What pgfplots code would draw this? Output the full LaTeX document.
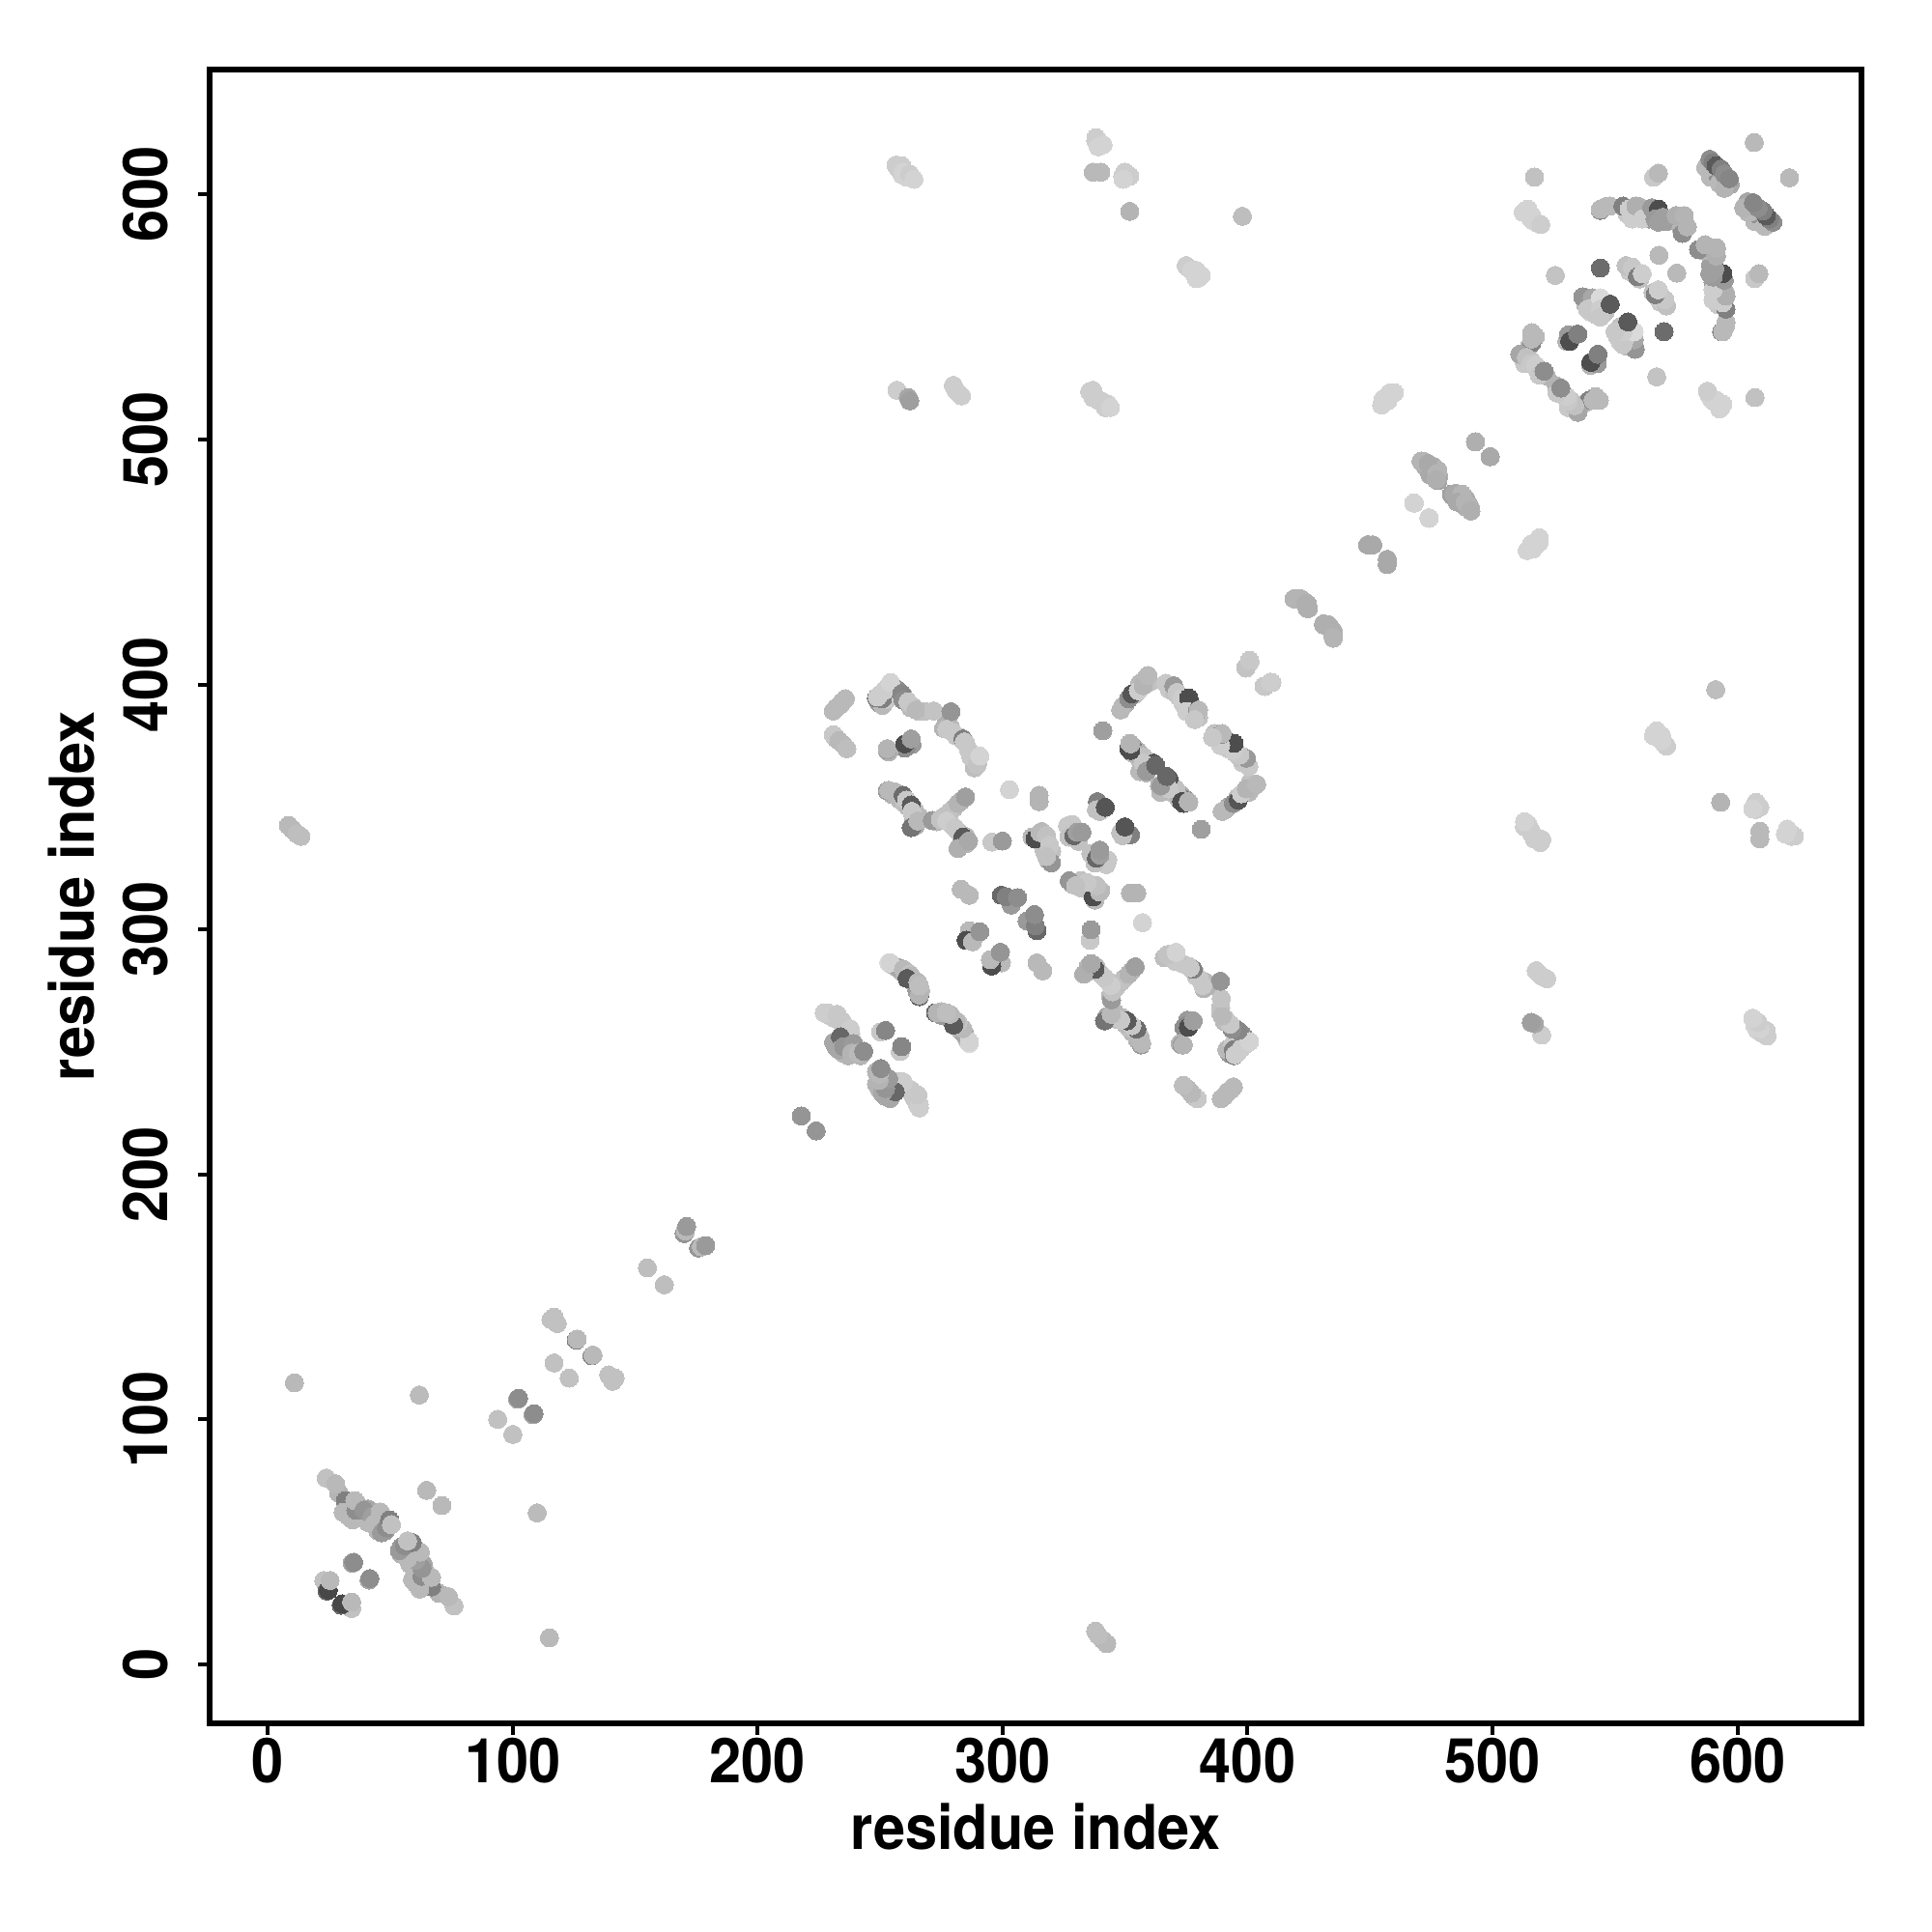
\documentclass[border=0pt]{standalone}
\usepackage{fontspec}
\setmainfont{TeX Gyre Heros}[FakeStretch=0.93]
\usepackage{pgfplots}
\usepackage{pgfplotstable}
\pgfplotsset{compat=1.18}
\pgfplotstableread{
x y g
10.9 115.0 .72
61.9 110.0 .73
8.5 342.5 .72
10 341 .72
12 339 .74
13.6 338 .74
23.9 76.1 .75
27.7 73.8 .72
31.7 66.9 .50
30.8 62.1 .72
34.7 59.1 .72
36 63 .55
35.6 66.9 .72
39.3 63 .58
42.6 60.4 .62
43.2 57.1 .72
46.5 53.8 .60
45.9 62.3 .72
48.5 55.8 .55
49.8 59 .50
50.5 57.1 .75
34.5 41.4 .65
35.1 41.7 .55
22.9 34.3 .75
24.2 30.0 .40
24.8 30.4 .28
25.5 34.3 .72
64.9 71.1 .72
93.9 100.1 .75
102.0 108.3 .65
102.4 108.7 .55
116.9 123.1 .75
126.0 132.4 .50
126.3 132.8 .72
115.6 140.8 .75
116.9 141.8 .75
118.2 139.2 .75
155 161.9 .74
170 175.9 .58
170.5 177 .72
171 178.8 .60
217.8 223.9 .58
227.2 266 .80
228.6 266 .80
232.5 265.4 .78
234.5 262.7 .78
237.8 259.5 .80
233.8 256.2 .40
233.2 250.9 .65
235.1 252.2 .58
239.1 253.5 .60
238.4 249.6 .70
241 249.6 .72
243.3 250.3 .55
250.2 258.2 .78
252.2 258.8 .52
253.5 286.4 .85
257.5 284.4 .65
254.2 286.4 .82
259.5 283.8 .72
262.1 281.8 .76
262.7 281 .72
261 280 .35
265.4 278.5 .72
266 272.6 .40
266 273.3 .70
266 277 .74
286.4 299.5 .72
285.1 295.6 .30
287.7 295 .72
290.7 299.1 .58
283.1 316.4 .72
286.4 314 .72
299.5 314 .40
303.5 310 .60
301.5 313.4 .50
306.1 313 .55
235.8 394.2 .72
233.8 391.8 .72
230.9 389.2 .72
230.9 379.5 .78
233.2 377.1 .72
236.4 373.8 .74
248.5 394.5 .50
250.9 394.2 .50
248.9 394.9 .80
251.6 397.5 .80
254.2 400.8 .82
258.8 396.2 .52
259.4 393.6 .55
261.4 392.9 .78
264.7 389.6 .72
271.9 389.2 .76
278.9 388.9 .58
275.9 382.1 .70
277.2 381.7 .78
279.8 380.4 .78
283.8 377.8 .50
284.4 376.6 .78
287 370.5 .78
289.7 367.3 .76
290.7 370.8 .82
252.9 373.2 .62
252.9 373.8 .70
260.7 374.5 .55
260.1 375.8 .30
262.7 377.8 .62
252.9 356.6 .60
253.5 356.8 .72
256.2 356.1 .72
259.4 354.8 .42
260.8 352.8 .78
262.7 350.8 .35
263 348.2 .78
262.7 341.6 .45
265.4 344.3 .72
271.3 344.5 .60
274.6 344.9 .76
278.5 348.2 .75
281.8 351.5 .70
284.8 354.1 .62
277.2 344.3 .80
280.5 341.6 .78
283.8 337.7 .35
281.8 333.1 .68
286.1 336.1 .66
295.6 335.7 .78
299.9 336.1 .60
302.8 357.1 .82
314.9 354.8 .70
314.9 352.2 .70
319.9 327.2 .58
312 337.7 .72
313.3 337 .30
315.3 339.6 .72
317.9 338.4 .75
319.2 334.4 .78
317.9 329.8 .75
326.5 342.3 .78
328.5 342.9 .78
327.1 337.7 .75
329.1 338.3 .40
330.4 339.7 .62
332.4 339.7 .60
338.7 352.2 .50
338.3 348.9 .75
339.6 348.2 .75
341.9 349.9 .33
340.9 381.1 .62
348.2 389.6 .72
351.5 394.2 .55
352.8 396.2 .33
355.4 397.5 .80
357.4 399.5 .70
359.3 403.7 .72
366.6 400.5 .78
369.9 399.5 .60
371.2 396.8 .78
373.1 394.2 .80
376 394.5 .30
377.1 391.6 .30
375.1 389 .80
379.5 389 .55
380 389.6 .72
378.4 385.7 .78
351.5 373.8 .30
351.9 376 .72
353.4 373.8 .50
355.4 371.2 .70
357.4 370.6 .75
358 366.6 .65
361.6 367.9 .33
357.4 367.9 .78
358.7 364.6 .60
362.5 367 .40
352.2 373.1 .30
352.2 375.8 .70
399.2 407 .76
400.8 409.9 .78
406.7 399.4 .78
409.3 401 .80
258.8 611.7 .80
257.5 610.4 .80
259.5 609.1 .82
262.1 608.4 .80
263.8 606.2 .82
338.1 623.2 .80
341 620.3 .82
339 619.5 .82
337 609.1 .72
340.1 609.1 .72
349.9 609.1 .80
351.9 607.5 .80
349.2 606.2 .82
351.9 593.1 .70
397.9 591.1 .74
374.9 571 .80
377.1 569 .82
379.1 569 .82
381.1 567 .82
379.1 565.7 .82
256.9 520.1 .80
261.5 517.1 .65
262.1 515.8 .62
279.9 522.1 .80
283.2 517.8 .80
336.8 520.1 .80
337.7 517.7 .80
340.3 515.8 .80
341.9 514.5 .80
344 513.1 .82
459.9 519.1 .82
455.3 516.5 .82
454.7 514.1 .82
457.3 515.8 .82
493 499.1 .68
499 493 .66
470.8 491.2 .70
473.7 490.2 .66
475 487.5 .66
477.3 486.2 .70
477 483.6 .68
483.2 477.7 .62
484.2 477.7 .66
487.5 477.7 .70
485.6 474.4 .66
488.8 474.4 .70
490.2 473.1 .70
491.1 471.1 .68
467.8 474.1 .82
474 468.1 .82
449 457 .66
451.1 457 .66
457 451.1 .66
457 449.2 .66
418.9 435 .70
421.8 435 .70
423.8 433 .68
424.4 431 .68
431 424.8 .68
433 424.4 .68
434.7 421.8 .68
434.9 419.2 .70
517.1 607.1 .75
512.5 592.7 .82
514.4 594 .82
515.7 590 .82
519.7 587.7 .80
544 593.5 .55
544 594 .72
548 595.3 .72
553.2 595.3 .50
555.8 594 .80
558.5 595.3 .68
561.1 590 .80
565 594.6 .60
567.7 594 .30
566.3 590 .60
567.7 588.7 .62
569.6 590.7 .62
577.5 584.1 .55
574.9 591.4 .68
578.2 591.4 .70
579.5 586.8 .70
565.7 607 .78
567.7 608.7 .72
525.6 567 .76
544 570 .42
554.5 571 .75
557.1 570.3 .78
559.1 566.4 .50
561.1 567.7 .80
567.9 575.2 .72
536.8 558.2 .58
540.7 557.8 .65
538.7 553.2 .78
542 554.5 .78
544 557.8 .85
544 553.2 .80
544 550 .78
548 555.2 .35
516 539.4 .50
516 541 .72
516 543.6 .72
530.3 540 .70
530.9 542.7 .60
531.5 540.1 .30
534.8 543 .50
511.1 534.8 .65
513.8 533.5 .75
515.7 530.9 .78
517.7 530.2 .80
519 526.3 .78
521 527.9 .55
592.6 604.5 .72
594.6 602.5 .70
588 612.4 .72
588.7 614.4 .55
590 613 .50
591.3 611.7 .35
593.3 610.4 .50
594.6 608.4 .55
596.6 606.5 .52
606.8 621.2 .72
}\pts
\pgfplotstableread{
x y g
255 285.5 .75
256 285 .72
258.5 283 .72
260 283 .70
261 282 .72
263.5 280 .75
264.5 279 .72
265.5 276 .72
266.5 275 .72
264 278 .68
265 275 .60
229 265 .80
231 264 .78
233 263 .78
235 261 .78
236 260 .78
238 257.5 .78
236 256 .70
237 253 .70
240 251 .70
235 249.5 .72
237 248.5 .70
232 252 .65
242 248.5 .70
231 254 .65
232 390.5 .72
234.5 393 .72
232 378 .72
235 375.5 .72
250 396 .78
253 399 .80
249.5 392.5 .60
251 391.5 .72
253 394 .78
255 397 .80
257 398 .55
260 394.5 .72
262.5 390.5 .72
263.5 391 .75
266 389 .75
268 389 .75
277 384 .68
278.5 383 .72
281 379 .78
282.5 378.5 .75
285 376 .78
286 373.5 .78
288 371 .76
288.5 369.5 .76
290 369 .78
288.5 366 .74
260 374 .55
263 375.5 .60
253.5 372.5 .70
255 355 .70
257 355.5 .70
258 353 .72
260 351.5 .75
261.5 350 .72
264 349 .75
263.5 346 .72
266 346 .72
264.5 342.5 .65
263.5 343 .72
273 344 .72
276 346 .75
277 346 .75
280 349.5 .72
283 352.5 .68
279 343 .78
282 340 .75
283 335 .70
285 338 .72
285 335 .70
316 340 .72
318 336 .75
316 335 .75
317 332 .75
320 332 .75
318.5 328.5 .70
331 336 .75
329 340 .75
340 350 .60
350 392 .65
349 391 .70
354 396 .75
356 400.5 .72
358 402 .72
360 401 .75
368 398 .78
370 397 .75
372 395 .78
373.5 392.5 .80
376 391 .78
378 387 .75
380 386.5 .75
374.5 391.5 .78
353 375 .55
352.5 372.5 .65
355 373 .70
354 371.5 .72
356 369 .75
359 369 .72
357 365.5 .70
360 367 .75
356 364.5 .72
358.6 364 .70
29 70 .70
33 66 .65
32.5 63.5 .70
33 60.5 .72
36 61 .70
37 65 .70
38 62 .70
40 60 .70
41 63.5 .65
44 61 .72
41 58 .72
44.5 56 .72
47 60.5 .70
46 58 .72
47.5 57 .70
45 54.5 .70
48 54.5 .60
49 57.5 .60
419.5 435 .70
423 434 .70
424 432 .70
432 424.5 .68
434 423 .68
435 420.5 .70
472 491 .70
476 487 .68
476 489 .68
478 485 .68
486 476 .66
487 474 .66
489 472.5 .68
513.5 593.5 .82
517 589 .82
518 588.5 .82
516 591.5 .82
546 595 .72
555 592 .78
557 590 .80
559 591 .80
560 595 .70
563 592 .70
564 590 .62
568 592 .62
571 589 .62
576 591 .70
578 589 .68
577 586 .70
556 568.5 .78
558 568 .80
560 565.5 .75
590 610 .65
589 607 .72
592 608 .55
593 606 .65
595 607 .55
597 604 .65
587 611 .72
590.5 612 .50
512 534 .72
513 531 .78
516 532 .78
518 529 .78
520 527 .70
522 526 .70
515 538 .72
517.5 542 .72
532 541 .55
533 542.5 .50
538 555 .72
540 552 .80
541 554 .75
546 552 .75
546 555.5 .78
542 551 .78
338 622 .80
339.5 621.5 .82
349 607.5 .80
376 570 .80
378 568 .82
380 566 .82
261 607 .82
256.5 612 .80
259 608 .82
335.5 519.5 .80
337 517 .80
339 516 .80
342 513 .80
343 514.5 .82
281 520 .80
282 519 .80
458 519 .82
456 517 .82
455 515 .82
}\ptsb
\begin{document}
\begin{tikzpicture}
\path[use as bounding box] (-108.5pt,-108pt) rectangle (891.5pt,892pt);
\begin{axis}[
  at={(0pt,0pt)}, anchor=south west,
  scale only axis, width=855pt, height=856pt,
  xmin=-23.7, xmax=650.6, ymin=-24, ymax=651,
  axis line style={line width=2.6pt, black},
  xtick={0,100,...,600}, ytick={0,100,...,600},
  xtick pos=bottom, ytick pos=left,
  tick align=outside, major tick length=6pt,
  every tick/.style={black, line width=2pt},
  /pgf/number format/assume math mode=true,
  /pgf/number format/1000 sep={},
  tick label style={font=\fontsize{32}{32}\selectfont\bfseries},
  label style={font=\fontsize{32}{32}\selectfont\bfseries},
  xticklabel style={anchor=north, yshift=2pt},
  yticklabel style={xshift=-12pt, rotate=90, anchor=south},
  xlabel={residue index}, ylabel={residue index},
  xlabel style={at={(axis description cs:0.5,0)}, anchor=north, yshift=-38pt},
  ylabel style={at={(axis description cs:0,0.5)}, anchor=south, rotate=0, yshift=56pt},
  colormap={bw}{gray(0cm)=(0); gray(1cm)=(1)},
  point meta min=0, point meta max=1,
  scatter/use mapped color={draw=mapped color, fill=mapped color},
]
\addplot[scatter, only marks, mark=*, mark size=4.7pt, line width=0pt, scatter src=explicit]
  table[x=y, y=x, meta=g] {\ptsb};
\addplot[scatter, only marks, mark=*, mark size=4.7pt, line width=0pt, scatter src=explicit]
  table[x=x, y=y, meta=g] {\ptsb};
\addplot[scatter, only marks, mark=*, mark size=4.7pt, line width=0pt, scatter src=explicit]
  table[x=y, y=x, meta=g] {\pts};
\addplot[scatter, only marks, mark=*, mark size=4.7pt, line width=0pt, scatter src=explicit]
  table[x=x, y=y, meta=g] {\pts};
\end{axis}
\end{tikzpicture}
\end{document}
